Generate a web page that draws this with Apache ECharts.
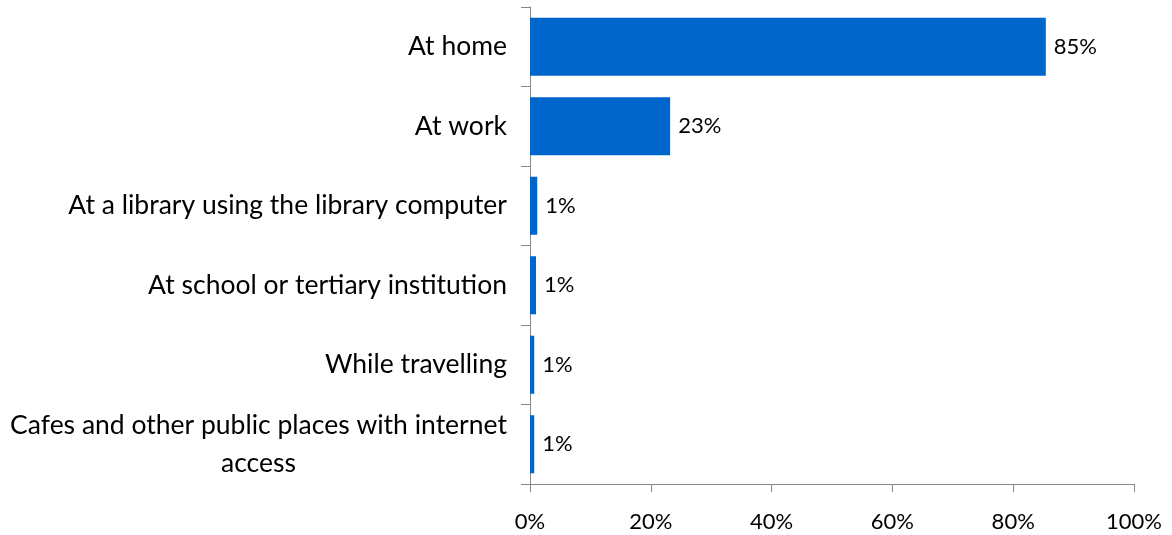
<!DOCTYPE html>
<html>
<head>
<meta charset="utf-8">
<script src="https://cdn.jsdelivr.net/npm/echarts@6/dist/echarts.min.js"></script>
<style>
  html, body { margin: 0; padding: 0; background: #fff; }
  #chart { width: 1172px; height: 535px; }
</style>
</head>
<body>
<div id="chart"></div>
<script>
// Where people access the internet (share of respondents, %)
const categories = [
  'At home',
  'At work',
  'At a library using the library computer',
  'At school or tertiary institution',
  'While travelling',
  'Cafes and other public places with internet access'
];
const shares = [85.4, 23.2, 1.2, 1.0, 0.7, 0.7];
const tickLabels = ['0%', '20%', '40%', '60%', '80%', '100%'];

const FONT = 'Lato';
const CAT_SIZE = 26.5;
const NUM_SIZE = 22;
const LINE_H = 38;
const BAR_COLOR = '#0066cc';
const AXIS_COLOR = '#868686';

// Long category names break after "internet"; both lines are centred on each other.
const wrapAt = 'internet';
function labelLines(name) {
  const i = name.indexOf(wrapAt);
  if (i < 0 || i + wrapAt.length >= name.length) return [name];
  return [name.slice(0, i + wrapAt.length), name.slice(i + wrapAt.length + 1)];
}
const measureCtx = document.createElement('canvas').getContext('2d');
measureCtx.font = CAT_SIZE + 'px ' + FONT;
function textWidth(s) { return Math.ceil(measureCtx.measureText(s).width); }
const wrapWidth = Math.max(...categories.map(c => {
  const l = labelLines(c);
  return l.length > 1 ? textWidth(l[0]) : 0;
}));

const chart = echarts.init(document.getElementById('chart'), null, { renderer: 'canvas' });
chart.setOption({
  animation: false,
  backgroundColor: '#ffffff',
  grid: { left: 530, right: 38, top: 7, bottom: 51, containLabel: false },
  xAxis: {
    type: 'value',
    min: 0,
    max: 100,
    interval: 20,
    axisLine: { show: true, lineStyle: { color: AXIS_COLOR, width: 1 } },
    axisTick: { show: true, length: 8, lineStyle: { color: AXIS_COLOR } },
    splitLine: { show: false },
    axisLabel: {
      margin: 27,
      color: '#000',
      fontFamily: FONT,
      fontSize: NUM_SIZE,
      formatter: (v) => tickLabels[Math.round(v / 20)]
    }
  },
  yAxis: {
    type: 'category',
    inverse: true,
    data: categories,
    axisLine: { show: true, lineStyle: { color: AXIS_COLOR, width: 1 } },
    axisTick: { show: true, length: 9, lineStyle: { color: AXIS_COLOR } },
    axisLabel: {
      margin: 23,
      color: '#000',
      fontFamily: FONT,
      fontSize: CAT_SIZE,
      lineHeight: LINE_H,
      formatter: (name) => {
        const lines = labelLines(name);
        if (lines.length === 1) return name;
        return lines.map(l => '{c|' + l + '}').join('\n');
      },
      rich: {
        c: {
          fontFamily: FONT,
          fontSize: CAT_SIZE,
          lineHeight: LINE_H,
          color: '#000',
          align: 'center',
          width: wrapWidth
        }
      }
    }
  },
  series: [{
    type: 'bar',
    data: shares,
    barCategoryGap: '27%',
    itemStyle: { color: BAR_COLOR },
    label: {
      show: true,
      position: 'right',
      distance: 8,
      color: '#000',
      fontFamily: FONT,
      fontSize: NUM_SIZE,
      formatter: (p) => Math.round(p.value) + '%'
    }
  }]
});
</script>
</body>
</html>
